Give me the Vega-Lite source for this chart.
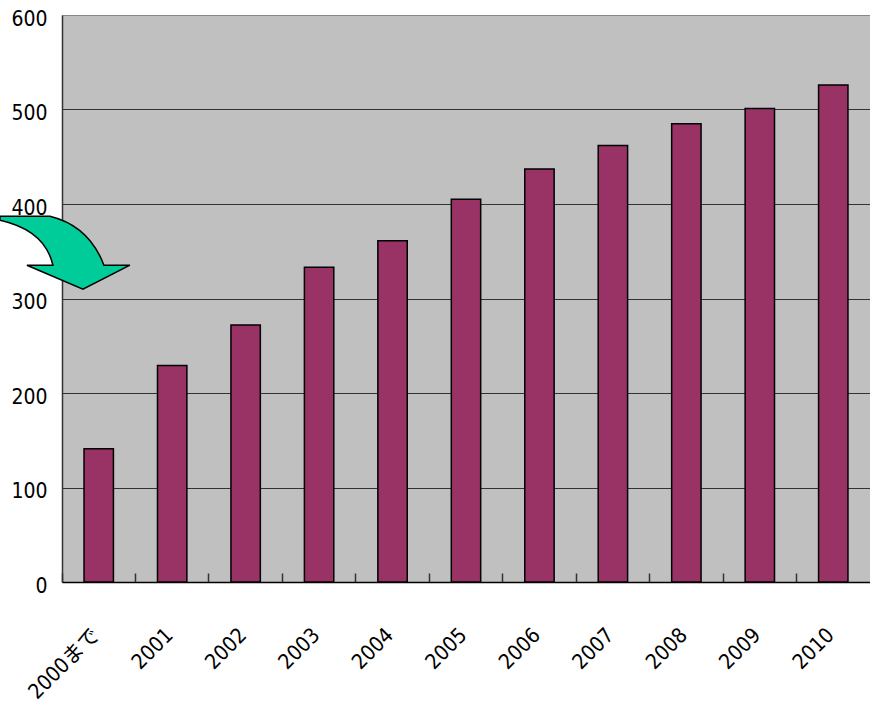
{
  "$schema": "https://vega.github.io/schema/vega-lite/v6.json",
  "width": 808,
  "height": 567,
  "autosize": {"type": "none"},
  "padding": {"left": 62, "top": 15, "right": 0, "bottom": 130},
  "background": "white",
  "config": {
    "view": {"fill": "#C0C0C0", "stroke": null},
    "font": "Liberation Sans Narrow, DejaVu Sans Condensed, Roboto Condensed, Noto Sans CJK JP, sans-serif"
  },
  "data": {
    "values": [
      {"year": "2000まで", "value": 141},
      {"year": "2001", "value": 229},
      {"year": "2002", "value": 272},
      {"year": "2003", "value": 333},
      {"year": "2004", "value": 361},
      {"year": "2005", "value": 405},
      {"year": "2006", "value": 437},
      {"year": "2007", "value": 462},
      {"year": "2008", "value": 485},
      {"year": "2009", "value": 501},
      {"year": "2010", "value": 526}
    ]
  },
  "layer": [
    {
      "mark": {"type": "bar", "fill": "#993366", "stroke": "black", "strokeWidth": 1.5, "width": {"band": 0.4}},
      "encoding": {
        "x": {
          "field": "year", "type": "nominal", "sort": null,
          "scale": {"paddingInner": 0, "paddingOuter": 0},
          "axis": {
            "title": null, "labelAngle": -45, "labelAlign": "right", "labelBaseline": "top",
            "labelFontSize": 21, "labelColor": "black", "bandPosition": 0, "labelOffset": -10,
            "tickSize": -9, "tickColor": "#333333", "tickWidth": 1.5, "domainColor": "black", "domainWidth": 1.5,
            "labelPadding": 51, "grid": false
          }
        },
        "y": {
          "field": "value", "type": "quantitative",
          "scale": {"domain": [0, 600], "nice": false},
          "axis": {
            "values": [0, 100, 200, 300, 400, 500, 600], "title": null, "grid": true,
            "gridColor": {"condition": {"test": "datum.value === 600", "value": "#888888"}, "value": "#333333"},
            "gridWidth": 1.2, "ticks": false, "labelPadding": 15, "labelFontSize": 21, "labelColor": "black",
            "labelOffset": 4, "domainColor": "#333333", "domainWidth": 1.5
          }
        }
      }
    },
    {
      "data": {"values": [{}]},
      "mark": {
        "type": "point",
        "shape": "M -1 -0.554 L -0.231 -0.554 Q 0.369 -0.408 0.6 0.2 L 1 0.2 L 0.277 0.569 L -0.585 0.2 L -0.185 0.2 Q -0.308 -0.338 -1 -0.492 Z",
        "size": 16900, "filled": true, "fill": "#00CC99", "stroke": "black", "strokeWidth": 1.5, "opacity": 1
      },
      "encoding": {
        "x": {"datum": "2000まで", "bandPosition": 0.04},
        "y": {"datum": 349}
      }
    }
  ]
}
